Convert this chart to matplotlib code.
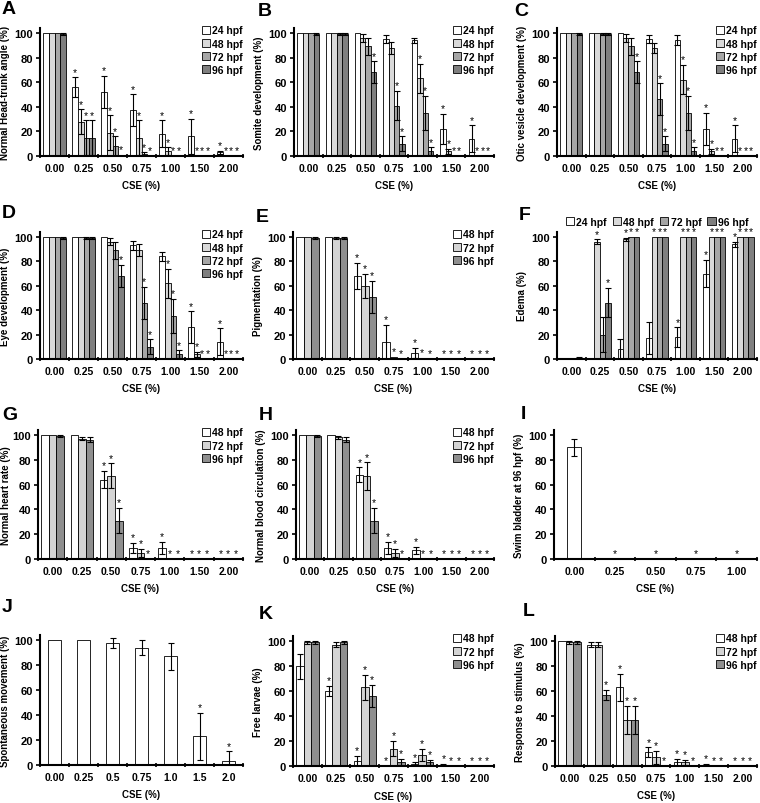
import numpy as np
import matplotlib
matplotlib.use('Agg')
import matplotlib.pyplot as plt

plt.rcParams['font.family'] = ['Liberation Sans', 'DejaVu Sans']
plt.rcParams['font.weight'] = 'bold'
plt.rcParams['axes.labelweight'] = 'bold'

cse = ['0.00', '0.25', '0.50', '0.75', '1.00', '1.50', '2.00']
cse_i = ['0.00', '0.25', '0.50', '0.75', '1.00']
cse_j = ['0.00', '0.25', '0.5', '0.75', '1.0', '1.5', '2.0']
hpf4 = ['24 hpf', '48 hpf', '72 hpf', '96 hpf']
hpf3 = ['48 hpf', '72 hpf', '96 hpf']

# A head-trunk angle (rows: 24, 48, 72, 96 hpf)
a_mean = [[100, 56, 52, 37, 18, 16, 3], [100, 28, 19, 15, 4, 0, 0],
          [100, 15, 8, 2, 0, 0, 0], [99, 15, 1, 0, 0, 0, 0]]
a_err = [[0, 8, 13, 13, 11, 14, 1], [0, 10, 14, 14, 3, 0, 0],
         [0, 14, 8, 1, 0, 0, 0], [1, 14, 0, 0, 0, 0, 0]]
a_sig = [[0, 1, 1, 1, 1, 1, 1]] * 4

# B somite development
b_mean = [[100, 100, 100, 95, 94, 22, 14], [100, 100, 96, 88, 63, 4, 0],
          [100, 99, 89, 41, 35, 0, 0], [99, 99, 68, 10, 4, 0, 0]]
b_err = [[0, 0, 0, 3, 2, 12, 11], [0, 0, 3, 5, 12, 2, 0],
         [0, 1, 7, 12, 14, 0, 0], [1, 1, 9, 6, 3, 0, 0]]
b_sig = [[0, 0, 0, 0, 0, 1, 1], [0, 0, 0, 0, 1, 1, 1],
         [0, 0, 0, 1, 1, 1, 1], [0, 0, 1, 1, 1, 1, 1]]

# C otic vesicle development
c_mean = [[100, 100, 100, 95, 94, 22, 14], [100, 100, 96, 88, 62, 4, 0],
          [100, 99, 89, 46, 35, 0, 0], [99, 99, 68, 10, 4, 0, 0]]
c_err = [[0, 0, 0, 3, 4, 13, 11], [0, 0, 3, 4, 12, 2, 0],
         [0, 1, 7, 13, 14, 0, 0], [1, 1, 9, 6, 3, 0, 0]]
c_sig = b_sig

# D eye development
d_mean = [[100, 100, 100, 93, 84, 26, 14], [100, 100, 96, 89, 62, 4, 0],
          [100, 99, 89, 46, 35, 0, 0], [99, 99, 68, 10, 4, 0, 0]]
d_err = [[0, 0, 0, 4, 4, 13, 11], [0, 0, 3, 5, 12, 2, 0],
         [0, 1, 7, 13, 14, 0, 0], [1, 1, 9, 6, 3, 0, 0]]
d_sig = b_sig

# E pigmentation (rows: 48, 72, 96 hpf)
e_mean = [[100, 100, 68, 14, 5, 0.5, 0.5], [100, 99, 60, 2, 1, 0.5, 0.5],
          [99, 99, 51, 0.5, 0.5, 0.5, 0.5]]
e_err = [[0, 0, 11, 14, 4, 0, 0], [0, 1, 10, 0, 0, 0, 0], [1, 1, 13, 0, 0, 0, 0]]
e_sig = [[0, 0, 1, 1, 1, 1, 1]] * 3

# F edema
f_mean = [[1, 1, 8, 17, 18, 70, 94], [1, 96, 98, 100, 100, 100, 100],
          [1, 20, 100, 100, 100, 100, 100], [1, 46, 100, 100, 100, 100, 100]]
f_err = [[0, 0, 8, 13, 8, 11, 2], [0, 2, 1, 0, 0, 0, 0],
         [0, 14, 0, 0, 0, 0, 0], [1, 12, 0, 0, 0, 0, 0]]
f_sig = [[0, 0, 0, 0, 1, 1, 1], [0, 1, 1, 1, 1, 1, 1],
         [0, 0, 1, 1, 1, 1, 1], [0, 1, 1, 1, 1, 1, 1]]

# G normal heart rate
g_mean = [[100, 100, 64, 9, 9, 0, 0], [100, 97, 67, 5, 0, 0, 0], [99, 96, 31, 0, 0, 0, 0]]
g_err = [[0, 0, 7, 4, 5, 0, 0], [0, 1, 10, 3, 0, 0, 0], [1, 2, 10, 0, 0, 0, 0]]
g_sig = [[0, 0, 1, 1, 1, 1, 1]] * 3

# H normal blood circulation
h_mean = [[100, 100, 68, 9, 7, 0, 0], [100, 98, 67, 5, 0, 0, 0], [99, 96, 31, 0, 0, 0, 0]]
h_err = [[0, 0, 6, 5, 3, 0, 0], [0, 1, 11, 3, 0, 0, 0], [1, 2, 10, 0, 0, 0, 0]]
h_sig = g_sig

# I swim bladder
i_mean = [[90, 0, 0, 0, 0]]
i_err = [[7, 0, 0, 0, 0]]
i_sig = [[0, 1, 1, 1, 1]]

# J spontaneous movement
j_mean = [[100, 100, 98, 94, 87, 23, 3]]
j_err = [[0, 0, 4, 6, 11, 19, 8]]
j_sig = [[0, 0, 0, 0, 0, 1, 1]]

# K free larvae
k_mean = [[80, 60, 4, 0, 2, 1, 0], [99, 97, 63, 14, 9, 0, 0], [99, 99, 56, 3, 3, 0, 0]]
k_err = [[10, 4, 4, 0, 1, 1, 0], [1, 2, 10, 6, 5, 0, 0], [1, 1, 9, 3, 2, 0, 0]]
k_sig = [[0, 1, 1, 1, 1, 1, 1], [0, 0, 1, 1, 1, 1, 1], [0, 0, 1, 1, 1, 1, 1]]

# L response to stimulus
l_mean = [[100, 97, 63, 11, 3, 1, 0], [99, 97, 37, 7, 3, 0, 0], [99, 57, 37, 0, 0, 0, 0]]
l_err = [[0, 2, 11, 4, 3, 1, 0], [1, 2, 11, 5, 2, 0, 0], [1, 4, 11, 0, 0, 0, 0]]
l_sig = [[0, 0, 1, 1, 1, 1, 1], [0, 0, 1, 1, 1, 1, 1], [0, 1, 1, 1, 1, 1, 1]]

col4 = ['white', '#d9d9d9', '#a6a6a6', '#7f7f7f']
col3 = ['white', '#d4d4d4', '#8f8f8f']

W, H = 760, 804
fig = plt.figure(figsize=(7.6, 8.04), dpi=100)


def make_ax(x0, x1, y0, ytop):
    # pixel box -> figure fraction; y0 = pixel row of value 0, ytop = pixel row of value 104
    return fig.add_axes([x0 / W, 1 - y0 / H, (x1 - x0) / W, (y0 - ytop) / H])


def panel(ax, cats, means, errs, sigs, colors, labels, ylabel, width, leg=None,
          xlabelpad=5, ylabelpad=3):
    n = len(cats)
    k = len(means)
    x = np.arange(n)
    for i in range(k):
        pos = x + (i - (k - 1) / 2) * width
        m = np.array(means[i], dtype=float)
        e = np.array(errs[i], dtype=float)
        ax.bar(pos, m, width, color=colors[i], edgecolor='black', linewidth=0.6,
               label=labels[i] if labels else None, zorder=2)
        mask = e > 0
        if mask.any():
            ax.errorbar(pos[mask], m[mask], yerr=e[mask], fmt='none', ecolor='black',
                        elinewidth=0.8, capsize=2.5, capthick=0.8, zorder=3)
        for p, v, s, ee in zip(pos, m, sigs[i], e):
            if s:
                ax.text(p, v + ee + 0.5, '*', ha='center', va='bottom', fontsize=7.5,
                        fontweight='normal')
    ax.set_xlim(-0.5, n - 0.5)
    ax.set_ylim(0, 104)
    ax.set_yticks([0, 20, 40, 60, 80, 100])
    ax.set_xticks(np.arange(n + 1) - 0.5)
    ax.set_xticklabels([])
    ax.set_xticks(x, minor=True)
    ax.set_xticklabels(cats, minor=True)
    ax.tick_params(axis='x', which='minor', length=0, pad=5, labelsize=7.5)
    ax.tick_params(axis='x', which='major', length=3, width=1.2, direction='inout')
    ax.tick_params(axis='y', length=3, width=1.2, direction='out', labelsize=8, pad=2)
    for s in ['top', 'right']:
        ax.spines[s].set_visible(False)
    for s in ['left', 'bottom']:
        ax.spines[s].set_linewidth(1.5)
    ax.set_ylabel(ylabel, fontsize=7, labelpad=ylabelpad)
    ax.set_xlabel('CSE (%)', fontsize=7, labelpad=xlabelpad)
    if leg == 'right':
        ax.legend(loc='upper right', bbox_to_anchor=(1.0, 1.02), frameon=False, fontsize=7.5,
                  handlelength=0.8, handleheight=0.8, handletextpad=0.2, labelspacing=0.3,
                  borderaxespad=0, borderpad=0)
    elif leg == 'top':
        ax.legend(loc='lower center', bbox_to_anchor=(0.5, 1.04), ncol=4, frameon=False,
                  fontsize=7.5, handlelength=0.8, handleheight=0.8, handletextpad=0.2,
                  columnspacing=0.6, borderaxespad=0, borderpad=0)


w4, w3 = 0.19, 0.26

ax = make_ax(40, 243, 157, 29)
panel(ax, cse, a_mean, a_err, a_sig, col4, hpf4, 'Normal Head-trunk angle (%)', w4, 'right')
ax = make_ax(294, 494, 157, 29)
panel(ax, cse, b_mean, b_err, b_sig, col4, hpf4, 'Somite development (%)', w4, 'right')
ax = make_ax(557, 757, 157, 29)
panel(ax, cse, c_mean, c_err, c_sig, col4, hpf4, 'Otic vesicle development (%)', w4, 'right')

ax = make_ax(40, 243, 360, 233)
panel(ax, cse, d_mean, d_err, d_sig, col4, hpf4, 'Eye development (%)', w4, 'right')
ax = make_ax(293, 494, 360, 233)
panel(ax, cse, e_mean, e_err, e_sig, col3, hpf3, 'Pigmentation (%)', w3, 'right')
ax = make_ax(557, 757, 360, 233)
panel(ax, cse, f_mean, f_err, f_sig, col4, hpf4, 'Edema (%)', w4, 'top')

ax = make_ax(38, 243, 560, 431)
panel(ax, cse, g_mean, g_err, g_sig, col3, hpf3, 'Normal heart rate (%)', w3, 'right',
      ylabelpad=1)
ax = make_ax(296, 494, 560, 431)
panel(ax, cse, h_mean, h_err, h_sig, col3, hpf3, 'Normal blood circulation (%)', w3, 'right')
ax = make_ax(554, 757, 560, 431)
panel(ax, cse_i, i_mean, i_err, i_sig, ['white'], None, 'Swim bladder at 96 hpf (%)', 0.35)

ax = make_ax(40, 243, 766, 636)
panel(ax, cse_j, j_mean, j_err, j_sig, ['white'], None, 'Spontaneous movement (%)', 0.42)
ax = make_ax(293, 494, 767, 637)
panel(ax, cse, k_mean, k_err, k_sig, col3, hpf3, 'Free larvae (%)', w3, 'right', xlabelpad=6)
ax = make_ax(555, 757, 767, 637)
panel(ax, cse, l_mean, l_err, l_sig, col3, hpf3, 'Response to stimulus (%)', w3, 'right')

letters = [('A', 2, 14), ('B', 258, 16), ('C', 514, 16),
           ('D', 2, 218), ('E', 256, 222), ('F', 519, 220),
           ('G', 2, 420), ('H', 259, 420), ('I', 521, 419),
           ('J', 2, 612), ('K', 259, 619), ('L', 523, 616)]
for t, px, py in letters:
    fig.text(px / W, 1 - py / H, t, fontsize=14, fontweight='bold')

fig.savefig('out.png', dpi=100)
